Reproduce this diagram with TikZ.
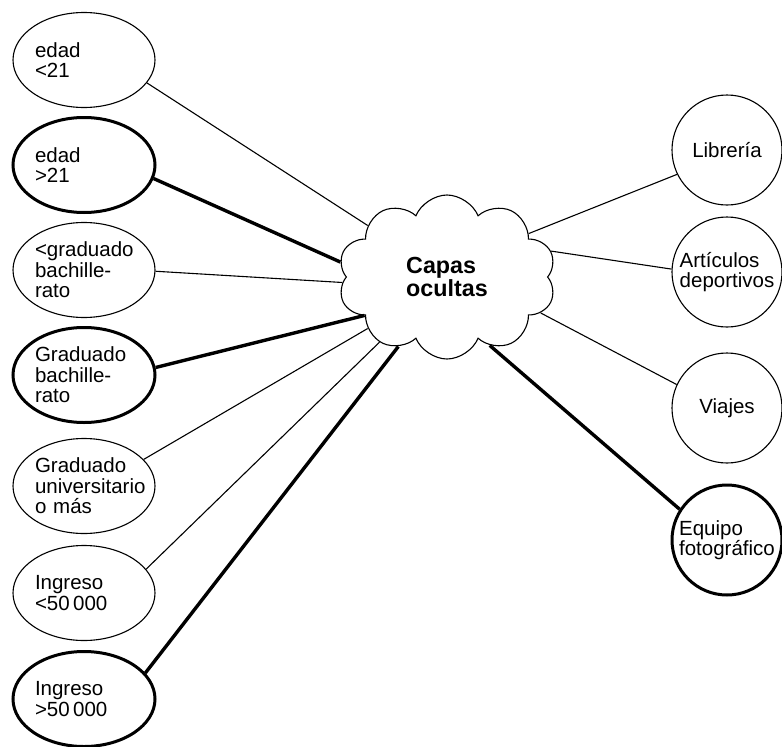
\documentclass[tikz,border=0pt]{standalone}
\usepackage{fontspec}
\setmainfont{Liberation Sans}
\usetikzlibrary{shapes.geometric,shapes.symbols}
\newcommand{\lblfont}{\fontsize{20.5}{20.5}\selectfont\hyphenpenalty=10000\exhyphenpenalty=10000}
\newcommand{\cloudfont}{\bfseries\fontsize{23.3}{23}\selectfont}

\begin{document}
\begin{tikzpicture}[
  x=1pt, y=-1pt,
  inbox/.style={draw, ellipse, line width=1.1pt, inner sep=0pt, text width=98pt, align=left, minimum width=142pt, minimum height=95pt, font=\lblfont},
  outbox/.style={draw, circle, line width=1.1pt, inner sep=0pt, minimum size=110pt, align=left, font=\lblfont},
  heavy/.style={line width=3pt},
  wire/.style={line width=1.1pt},
  boldwire/.style={line width=3.4pt}
]
\useasboundingbox (0,0) rectangle (782,747);
\node[cloud, draw, line width=1.1pt, cloud puffs=10, cloud puff arc=135, cloud ignores aspect, minimum width=218pt, minimum height=164pt, inner sep=0pt, align=left, font=\cloudfont] (hidden) at (447,277) {Capas\\ocultas};
\node[inbox] (age1) at (84,60) {edad\\<21};
\node[inbox, heavy] (age2) at (84,165) {edad\\>21};
\node[inbox] (edu1) at (84,270) {<graduado\\bachille-\\rato};
\node[inbox, heavy] (edu2) at (84,375) {Graduado\\bachille-\\rato};
\node[inbox] (edu3) at (84,486) {Graduado\\universitario\\o más};
\node[inbox] (inc1) at (84,593) {Ingreso\\<50\,000};
\node[inbox, heavy] (inc2) at (84,699) {Ingreso\\>50\,000};
\node[outbox] (books) at (727,150) {Librería};
\node[outbox] (sports) at (727,272) {Artículos\\deportivos};
\node[outbox] (travel) at (727,408) {Viajes};
\node[outbox, heavy] (photo) at (727,540) {Equipo\\fotográfico};
\draw[wire] (age1.-20) -- (hidden.147);
\draw[boldwire] (age2.-11) -- (hidden.172);
\draw[wire] (edu1.-1) -- (hidden.183);
\draw[boldwire] (edu2.6) -- (hidden.205);
\draw[wire] (edu3.24) -- (hidden.213);
\draw[wire] (inc1.21) -- (hidden.224);
\draw[boldwire] (inc2.23) -- (hidden.235);
\draw[wire] (hidden.28) -- (books.206);
\draw[wire] (hidden.14) -- (sports.177);
\draw[wire] (hidden.-21) -- (travel.155);
\draw[boldwire] (hidden.-58) -- (photo.147);
\end{tikzpicture}
\end{document}
